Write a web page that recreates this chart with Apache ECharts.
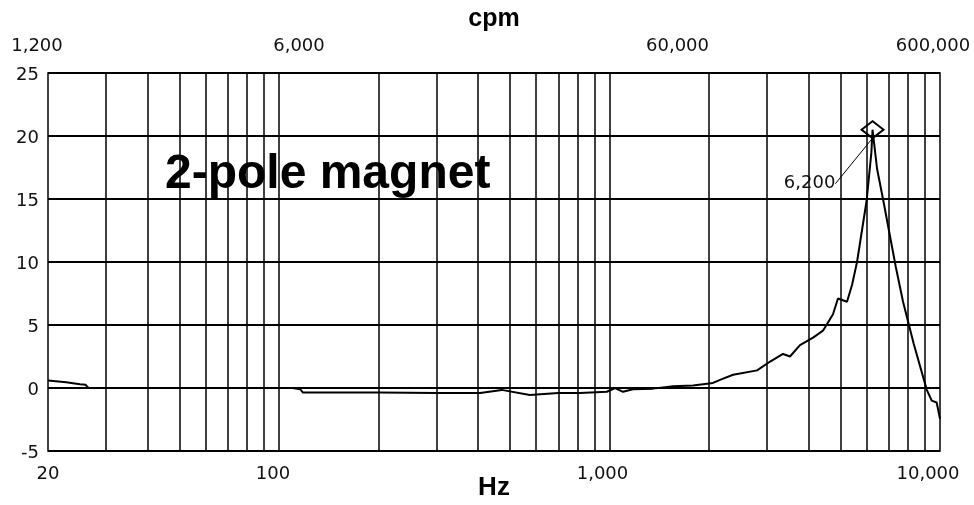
<!DOCTYPE html>
<html>
<head>
<meta charset="utf-8">
<script src="https://cdn.jsdelivr.net/npm/echarts@6/dist/echarts.min.js"></script>
<style>
  html, body { margin:0; padding:0; background:#fff; }
  #chart { width:974px; height:505px; }
</style>
</head>
<body>
<div id="chart"></div>
<script>
// frequency (Hz) and amplitude
var freqHz = [20, 22.7, 25, 26, 26.5, 32, 50, 80, 110, 116, 118, 200, 300, 406, 472, 574, 700, 814, 982, 1040, 1099, 1178, 1354,
              1556, 1790, 2056, 2160, 2366, 2796, 3062, 3350, 3517, 3770, 4130, 4425, 4745, 4912, 5232, 5420, 5610, 6000, 6200,
              6250, 6450, 6734, 7350, 7730, 8330, 9120, 9440, 9770, 10000];
var amp = [0.6, 0.45, 0.3, 0.25, 0, 0, 0, 0, 0, -0.1, -0.35, -0.35, -0.4, -0.4, -0.15, -0.55, -0.4, -0.4, -0.3, 0, -0.3, -0.1, -0.05,
           0.13, 0.2, 0.4, 0.65, 1.05, 1.4, 2.1, 2.7, 2.5, 3.4, 4.0, 4.55, 5.85, 7.1, 6.85, 8.2, 10.0, 14.9, 18.7,
           20.5, 17.4, 14.9, 9.6, 6.85, 3.5, -0.15, -1.0, -1.15, -2.45];

var peak = [6250, 20.5];
var peakLabel = '6,200';

// vertical grid lines (Hz)
var gridHz = [30, 40, 50, 60, 70, 80, 90, 100, 200, 300, 400, 500, 600, 700, 800, 900, 1000,
              2000, 3000, 4000, 5000, 6000, 7000, 8000, 9000];

// tick labels: bottom in Hz, top in cpm
var hzLabels = ['20', '100', '1,000', '10,000'];
var cpmLabels = ['1,200', '6,000', '60,000', '600,000'];
var topShift = [-11, 20, 68, -7];
var bottomShift = [0, -6, -7, -12];

var tickFont = { fontFamily: 'DejaVu Sans', fontSize: 18, color: '#111' };

function richFor(shift) {
    var r = {};
    shift.forEach(function (d, i) {
        r['t' + i] = Object.assign({
            padding: d >= 0 ? [0, 0, 0, 2 * d] : [0, -2 * d, 0, 0]
        }, tickFont);
    });
    return r;
}

var curve = freqHz.map(function (f, i) { return [f, amp[i]]; });

var chart = echarts.init(document.getElementById('chart'));
var option = {
    backgroundColor: '#fff',
    animation: false,
    title: {
        text: '2-pole magnet',
        left: 165,
        top: 151,
        padding: 0,
        textStyle: { fontFamily: 'Liberation Sans', fontWeight: 'bold', fontSize: 48, color: '#000' }
    },
    grid: {
        left: 48, right: 34, top: 73, bottom: 54,
        outerBoundsMode: 'none',
        show: true, borderColor: '#000', borderWidth: 1.5
    },
    xAxis: [
        {
            type: 'log', logBase: 10, min: 20, max: 10000,
            position: 'bottom',
            name: 'Hz', nameLocation: 'middle', nameGap: 24, nameMoveOverlap: false,
            nameTextStyle: { fontFamily: 'Liberation Sans', fontWeight: 'bold', fontSize: 26, color: '#000' },
            axisLine: { show: false }, axisTick: { show: false }, splitLine: { show: false },
            axisLabel: Object.assign({
                margin: 14,
                formatter: function (v, i) { return '{t' + i + '|' + hzLabels[i] + '}'; },
                rich: richFor(bottomShift)
            }, tickFont)
        },
        {
            type: 'log', logBase: 10, min: 20, max: 10000,
            position: 'top',
            name: 'cpm', nameLocation: 'middle', nameGap: 33,
            nameTextStyle: { fontFamily: 'Liberation Sans', fontWeight: 'bold', fontSize: 25, color: '#000' },
            axisLine: { show: false }, axisTick: { show: false }, splitLine: { show: false },
            axisLabel: Object.assign({
                margin: 18,
                formatter: function (v, i) { return '{t' + i + '|' + cpmLabels[i] + '}'; },
                rich: richFor(topShift)
            }, tickFont)
        }
    ],
    yAxis: {
        type: 'value', min: -5, max: 25, interval: 5,
        axisLine: { show: false }, axisTick: { show: false },
        axisLabel: Object.assign({
            margin: 9,
            formatter: function (v) { return '{y|' + v + '}'; },
            rich: { y: Object.assign({ padding: [5, 0, 0, 0] }, tickFont) }
        }, tickFont),
        splitLine: { lineStyle: { color: '#000', width: 1.8 } }
    },
    series: [
        {
            type: 'line',
            data: curve,
            showSymbol: false,
            lineStyle: { color: '#000', width: 2 },
            markLine: {
                silent: true,
                symbol: 'none',
                label: { show: false },
                lineStyle: { color: '#000', width: 1.5, type: 'solid' },
                data: gridHz.map(function (v) { return { xAxis: v }; })
            }
        },
        {
            type: 'scatter',
            data: [peak],
            symbol: 'diamond',
            symbolSize: [22, 17],
            itemStyle: { color: 'rgba(0,0,0,0)', borderColor: '#000', borderWidth: 2, opacity: 1 },
            z: 5,
            label: Object.assign({
                show: true,
                position: 'left',
                formatter: peakLabel
            }, tickFont),
            labelLayout: { dx: -20, dy: 54 },
            labelLine: { show: true, lineStyle: { color: '#000', width: 1 } }
        }
    ]
};
chart.setOption(option);
</script>
</body>
</html>
